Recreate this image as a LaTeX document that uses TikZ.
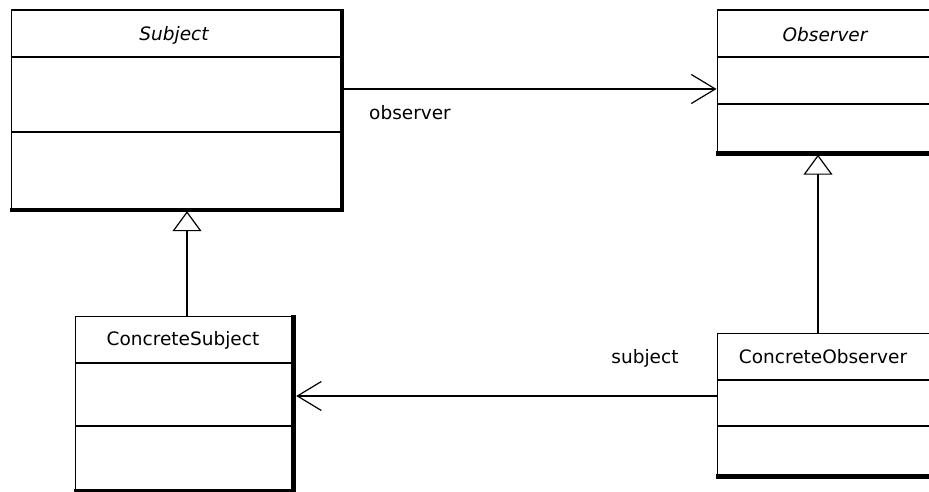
\documentclass[tikz,border=0pt]{standalone}
\usepackage{fontspec}
\setmainfont{DejaVu Sans}
\usetikzlibrary{arrows.meta,calc}
\tikzset{
  cls/.style={draw=black, line width=1.2pt, fill=white, inner sep=0pt, anchor=north west},
  shade/.style={line width=4.5pt, line join=miter, line cap=butt},
  divider/.style={line width=1.2pt},
  title/.style={font=\fontsize{18.5}{22}\selectfont, inner sep=0pt},
  ititle/.style={font=\fontsize{18.5}{22}\selectfont\itshape, inner sep=0pt},
  lbl/.style={font=\fontsize{18.5}{22}\selectfont, inner sep=0pt},
  assoc/.style={line width=1.2pt, -{Straight Barb[length=24pt, width=29pt, line width=1.2pt]}},
  gen/.style={line width=1.2pt, -{Triangle[open, length=20pt, width=29pt, line width=1.2pt, fill=white]}}
}
\begin{document}
\begin{tikzpicture}[x=1pt,y=-1pt]
\useasboundingbox (0,0) rectangle (929,492);
\clip (0,0) rectangle (929,492);
\fill[white] (0,0) rectangle (929,492);

% Subject
\node[cls, minimum width=330.5pt, minimum height=199.5pt] (subj) at (10.5,9.5) {};
\draw[shade] ([yshift=0.6pt]subj.north east) -- (subj.south east) -- ([xshift=-0.6pt]subj.south west);
\draw[divider] (subj.west |- 0,57) -- (subj.east |- 0,57);
\draw[divider] (subj.west |- 0,132) -- (subj.east |- 0,132);
\node[ititle] (subjT) at (174,35) {Subject};

% Observer
\node[cls, minimum width=219.5pt, minimum height=143pt] (obs) at (716.5,9.5) {};
\draw[shade] ([yshift=0.6pt]obs.north east) -- (obs.south east) -- ([xshift=-0.6pt]obs.south west);
\draw[divider] (obs.west |- 0,57) -- (obs.east |- 0,57);
\draw[divider] (obs.west |- 0,104) -- (obs.east |- 0,104);
\node[ititle] (obsT) at (825,35) {Observer};

% ConcreteSubject
\node[cls, minimum width=218pt, minimum height=174.5pt] (csubj) at (74.5,315.5) {};
\draw[shade] ([yshift=0.6pt]csubj.north east) -- (csubj.south east) -- ([xshift=-0.6pt]csubj.south west);
\draw[divider] (csubj.west |- 0,363) -- (csubj.east |- 0,363);
\draw[divider] (csubj.west |- 0,426) -- (csubj.east |- 0,426);
\node[title] (csubjT) at (183,340) {ConcreteSubject};

% ConcreteObserver
\node[cls, minimum width=219.5pt, minimum height=143pt] (cobs) at (716.5,332.5) {};
\draw[shade] ([yshift=0.6pt]cobs.north east) -- (cobs.south east) -- ([xshift=-0.6pt]cobs.south west);
\draw[divider] (cobs.west |- 0,380) -- (cobs.east |- 0,380);
\draw[divider] (cobs.west |- 0,426) -- (cobs.east |- 0,426);
\node[title] (cobsT) at (823,357) {ConcreteObserver};

% generalizations
\draw[gen] (csubj.north -| 187,0) -- ([yshift=-1pt]subj.south -| 187,0);
\draw[gen] (cobs.north -| 818,0) -- ([yshift=-1pt]obs.south -| 818,0);

% associations
\draw[assoc] ([xshift=2pt]subj.east |- 0,89) -- (obs.west |- 0,89);
\node[lbl] (lobs) at (410,113) {observer};
\draw[assoc] (cobs.west |- 0,396) -- ([xshift=2.5pt]csubj.east |- 0,396);
\node[lbl] (lsubj) at (645,358) {subject};
\end{tikzpicture}
\end{document}
